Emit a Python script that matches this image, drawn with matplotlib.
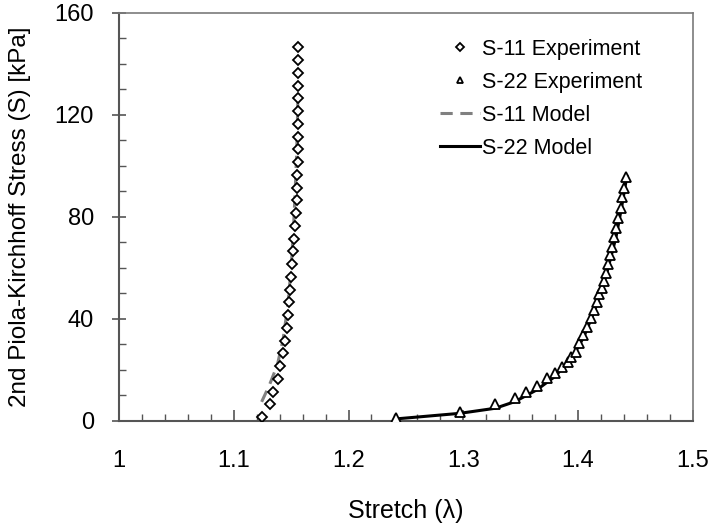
import matplotlib
matplotlib.use("Agg")
import matplotlib.pyplot as plt
from matplotlib.ticker import MultipleLocator

plt.rcParams["font.family"] = ["Liberation Sans", "DejaVu Sans"]

# S-11 experiment (stretch, stress kPa)
s11_stretch = [1.1248, 1.1315, 1.1339, 1.1382, 1.1402, 1.1431, 1.1446, 1.1460,
               1.1475, 1.1484, 1.1490, 1.1498, 1.1507, 1.1519, 1.1525, 1.1533,
               1.1539, 1.1548, 1.1552, 1.1555, 1.1557, 1.1558, 1.1559, 1.1560,
               1.1561, 1.1562, 1.1562, 1.1562, 1.1562, 1.1562]
s11_stress = [1.5, 6.5, 11.5, 16.5, 21.5, 26.5, 31.5, 36.5, 41.5, 46.5,
              51.5, 56.5, 61.5, 66.5, 71.5, 76.5, 81.5, 86.5, 91.5, 96.5,
              101.5, 106.5, 111.5, 116.5, 121.5, 126.5, 131.5, 136.5, 141.5, 146.5]

# S-22 experiment
s22_stretch = [1.241, 1.297, 1.328, 1.345, 1.355, 1.364, 1.373, 1.380, 1.386,
               1.391, 1.394, 1.398, 1.401, 1.4045, 1.4074, 1.4111, 1.4138,
               1.4161, 1.4184, 1.4205, 1.4225, 1.4242, 1.4260, 1.4277, 1.4297,
               1.4315, 1.4332, 1.4352, 1.4370, 1.4384, 1.4399, 1.4418]
s22_stress = [1.3, 3.6, 6.7, 9.0, 11.5, 13.9, 17.0, 19.0, 21.3, 23.0, 25.0,
              27.2, 30.5, 33.7, 37.0, 40.3, 43.5, 46.8, 49.8, 52.0, 55.0, 58.0,
              61.4, 65.0, 68.4, 72.0, 75.6, 79.7, 83.7, 87.7, 91.2, 95.5]

# model curves
s11_model_stretch = [1.1243, 1.1310, 1.1380, 1.1430, 1.1470, 1.1500, 1.1520,
                     1.1535, 1.1548, 1.1556, 1.1560]
s11_model_stress = [7.5, 14.0, 22.0, 32.0, 45.0, 60.0, 75.0, 90.0, 105.0, 120.0, 132.0]

s22_model_stretch = [1.241, 1.297, 1.328, 1.345, 1.364, 1.380, 1.395, 1.405,
                     1.415, 1.425, 1.433, 1.438, 1.4425]
s22_model_stress = [0.8, 3.0, 5.0, 7.6, 12.2, 17.5, 25.0, 33.0, 44.0, 58.0,
                    72.0, 84.0, 96.0]

fig = plt.figure(figsize=(7.15, 5.3), dpi=100)
ax = fig.add_axes([0.1664, 0.2057, 0.8026, 0.7698])

ax.plot(s11_stretch, s11_stress, linestyle="none", marker="D", markersize=5.5,
        markerfacecolor="white", markeredgecolor="black", markeredgewidth=1.3,
        label="S-11 Experiment", zorder=3)
ax.plot(s22_stretch, s22_stress, linestyle="none", marker="^", markersize=7,
        markerfacecolor="white", markeredgecolor="black", markeredgewidth=1.3,
        label="S-22 Experiment", zorder=3)
ax.plot(s11_model_stretch, s11_model_stress, color="#808080", linestyle=(0, (4, 2.5)),
        linewidth=2.2, label="S-11 Model", zorder=2)
ax.plot(s22_model_stretch, s22_model_stress, color="black", linewidth=2.2,
        label="S-22 Model", zorder=2)

ax.set_xlim(1.0, 1.5)
ax.set_ylim(0, 160)
ax.xaxis.set_minor_locator(MultipleLocator(0.02))
ax.yaxis.set_major_locator(MultipleLocator(40))
ax.yaxis.set_minor_locator(MultipleLocator(10))
ax.set_xticks([1.0, 1.1, 1.2, 1.3, 1.4, 1.5])
ax.set_xticklabels(["1", "1.1", "1.2", "1.3", "1.4", "1.5"])

for sp in ax.spines.values():
    sp.set_color("#7a7a7a")
    sp.set_linewidth(1.2)
ax.spines["left"].set_color("#555555")
ax.spines["bottom"].set_color("#555555")
ax.spines["left"].set_linewidth(1.5)
ax.spines["bottom"].set_linewidth(1.5)

ax.tick_params(axis="y", which="major", direction="inout", length=10, width=1.2,
               color="#555555", labelsize=17, pad=13)
ax.tick_params(axis="y", which="minor", direction="in", length=5, width=1.0,
               color="#555555")
ax.tick_params(axis="x", which="major", direction="in", length=8, width=1.2,
               color="#555555", labelsize=17, pad=21)
ax.tick_params(axis="x", which="minor", direction="in", length=5, width=1.0,
               color="#555555")

ax.set_xlabel("Stretch (λ)", fontsize=18, labelpad=19)
ax.set_ylabel("2nd Piola-Kirchhoff Stress (S) [kPa]", fontsize=17.5, labelpad=17)

ax.legend(loc="upper left", bbox_to_anchor=(0.559, 0.937), frameon=False,
          fontsize=15.5, handlelength=1.85, handletextpad=0.1, labelspacing=0.56,
          borderpad=0, borderaxespad=0, markerscale=0.7)

fig.savefig("out.png", dpi=100)
